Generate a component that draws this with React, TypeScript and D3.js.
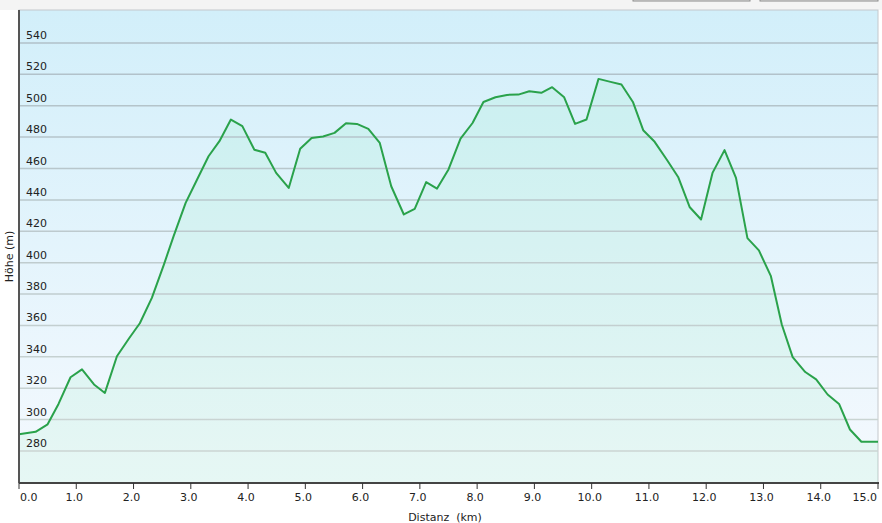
import React, { useEffect, useRef } from 'react';
import * as d3 from 'd3';

// distance along the track (km) and elevation (m)
const distances = [
  0, 0.29, 0.5, 0.69, 0.9, 1.1, 1.31, 1.5, 1.71, 1.92, 2.11, 2.32, 2.53, 2.7, 2.91,
  3.11, 3.31, 3.5, 3.7, 3.9, 4.11, 4.3, 4.49, 4.71, 4.91, 5.11, 5.31, 5.51, 5.71, 5.9,
  6.1, 6.3, 6.5, 6.72, 6.91, 7.11, 7.3, 7.5, 7.71, 7.92, 8.11, 8.32, 8.52, 8.72, 8.91,
  9.12, 9.31, 9.52, 9.71, 9.91, 10.12, 10.33, 10.52, 10.72, 10.9, 11.1, 11.31, 11.51,
  11.71, 11.91, 12.11, 12.32, 12.52, 12.72, 12.92, 13.13, 13.32, 13.51, 13.73, 13.92,
  14.12, 14.32, 14.51, 14.71, 15.0,
];
const elevations = [
  290.6, 292.2, 297, 310, 327, 332, 322.4, 317, 340.4, 351.7, 361.4, 377.6, 398.8,
  416.9, 438.1, 453, 467.8, 477.4, 491.2, 487, 472, 470, 457.2, 447.6, 472.6, 479.5,
  480.4, 482.7, 488.8, 488.4, 485.2, 476.3, 448.7, 430.7, 434.3, 451.3, 447.2, 459.4,
  479.1, 489, 502.4, 505.4, 506.9, 507.1, 509.2, 508.2, 511.8, 505.4, 488.4, 491.2,
  517.1, 515.2, 513.5, 502.4, 484.4, 477, 465.7, 454.6, 435.5, 427.5, 457.2, 471.7,
  454, 415.6, 407.8, 391.4, 360.6, 339.8, 330.3, 325.6, 316, 310, 293.7, 285.9, 285.9,
];
const yTicks = [280, 300, 320, 340, 360, 380, 400, 420, 440, 460, 480, 500, 520, 540];
const xTicks = d3.range(0, 16);

const width = 882;
const height = 523;
const font = 'Verdana, "DejaVu Sans", sans-serif';

export default function App() {
  const svgRef = useRef<SVGSVGElement>(null);

  useEffect(() => {
    if (!svgRef.current) return;
    const svg = d3.select(svgRef.current);
    svg.selectAll('*').remove();

    const margin = { top: 10, right: 4, bottom: 40, left: 19 };
    const left = margin.left;
    const right = width - margin.right;
    const top = margin.top;
    const bottom = height - margin.bottom;

    const x = d3.scaleLinear().domain([0, 15]).range([left, right]);
    const y = d3.scaleLinear().domain([259.6, 561]).range([bottom, top]);

    const data = distances.map((d, i) => ({ d, e: elevations[i] }));

    // top strip and the two buttons
    svg.append('rect').attr('x', 0).attr('y', 0).attr('width', width).attr('height', top)
      .attr('fill', '#f4f4f4');
    [[633, 750], [760, 878]].forEach(([a, b]) => {
      svg.append('rect').attr('x', a).attr('y', -10).attr('width', b - a).attr('height', 11)
        .attr('fill', '#e6e6e6').attr('stroke', '#8a8a8a');
    });

    const defs = svg.append('defs');
    const bg = defs.append('linearGradient').attr('id', 'bg').attr('x1', 0).attr('y1', 0)
      .attr('x2', 0).attr('y2', 1);
    bg.append('stop').attr('offset', '0%').attr('stop-color', '#d2effa');
    bg.append('stop').attr('offset', '100%').attr('stop-color', '#f5f9fe');

    svg.append('rect').attr('x', left).attr('y', top).attr('width', right - left)
      .attr('height', bottom - top).attr('fill', 'url(#bg)').attr('stroke', '#c4c8cc');

    // area under profile
    const area = d3.area<{ d: number; e: number }>()
      .x((p) => x(p.d)).y0(bottom).y1((p) => y(p.e));
    svg.append('path').datum(data).attr('d', area)
      .attr('fill', '#44e884').attr('fill-opacity', 0.08);

    // grid lines + labels
    const gridColor = d3.interpolateRgb('#aebfc8', '#cdd7d4');
    const grid = svg.append('g');
    yTicks.forEach((t) => {
      const k = (y(t) - top) / (bottom - top);
      grid.append('line').attr('x1', left).attr('x2', right).attr('y1', y(t)).attr('y2', y(t))
        .attr('stroke', gridColor(k)).attr('stroke-width', 1.5);
      grid.append('text').attr('x', left + 7).attr('y', y(t) - 4)
        .attr('font-family', font).attr('font-size', 11).attr('fill', '#222')
        .text(t);
    });

    const line = d3.line<{ d: number; e: number }>().x((p) => x(p.d)).y((p) => y(p.e));
    svg.append('path').datum(data).attr('d', line).attr('fill', 'none')
      .attr('stroke', '#2aa24b').attr('stroke-width', 2).attr('stroke-linejoin', 'round');

    // axes
    svg.append('line').attr('x1', left).attr('x2', left).attr('y1', top).attr('y2', bottom)
      .attr('stroke', '#555').attr('stroke-width', 2);
    svg.append('line').attr('x1', left).attr('x2', right + 1).attr('y1', bottom).attr('y2', bottom)
      .attr('stroke', '#444').attr('stroke-width', 2);

    xTicks.forEach((t, i) => {
      svg.append('line').attr('x1', x(t)).attr('x2', x(t)).attr('y1', bottom).attr('y2', bottom + 6)
        .attr('stroke', '#333').attr('stroke-width', 1);
      const first = i === 0;
      const last = i === xTicks.length - 1;
      svg.append('text')
        .attr('x', first ? x(t) + 1 : last ? x(t) - 1 : x(t) - 2)
        .attr('y', bottom + 18)
        .attr('text-anchor', first ? 'start' : last ? 'end' : 'middle')
        .attr('font-family', font).attr('font-size', 11).attr('fill', '#222')
        .text(t.toFixed(1));
    });

    svg.append('text').attr('transform', `translate(13,${(top + bottom) / 2 + 10}) rotate(-90)`)
      .attr('text-anchor', 'middle').attr('font-family', font).attr('font-size', 11)
      .attr('fill', '#222').text('Höhe (m)');
    svg.append('text').attr('x', 445).attr('y', 521).attr('text-anchor', 'middle')
      .attr('font-family', font).attr('font-size', 11).attr('fill', '#222')
      .attr('xml:space', 'preserve').style('white-space', 'pre').text('Distanz  (km)');
  }, []);

  return (
    <svg
      ref={svgRef}
      width={width}
      height={height}
      style={{ position: 'absolute', left: 0, top: 0, background: '#fff' }}
    ></svg>
  );
}
